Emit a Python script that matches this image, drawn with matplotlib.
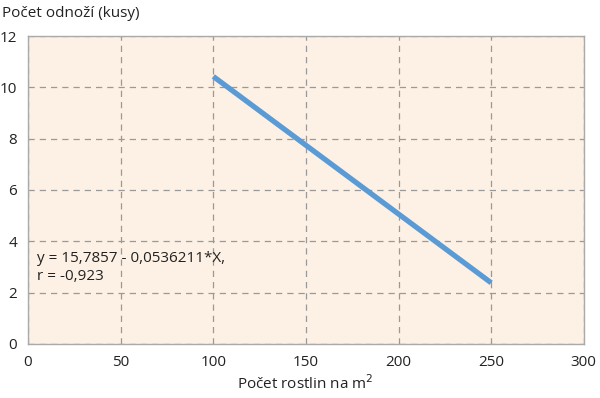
import matplotlib.pyplot as plt

# regression line endpoints (y = 15.7857 - 0.0536211*X)
x_vals = [100, 250]
y_vals = [15.7857 - 0.0536211 * 100, 15.7857 - 0.0536211 * 250]
x_ticks = [0, 50, 100, 150, 200, 250, 300]
y_ticks = [0, 2, 4, 6, 8, 10, 12]

plt.rcParams['font.family'] = ['Open Sans', 'DejaVu Sans']

fig = plt.figure(figsize=(6, 3.98), dpi=100)
ax = fig.add_axes([0.0467, 0.136, 0.9263, 0.7735])
ax.set_facecolor('#fcf1e4')

ax.plot(x_vals, y_vals, color='#5b9bd5', linewidth=3.8, solid_capstyle='butt', zorder=3)

ax.set_xlim(0, 300)
ax.set_ylim(0, 12)
ax.set_xticks(x_ticks)
ax.set_yticks(y_ticks)
ax.tick_params(length=0, labelsize=11, colors='#222222', pad=8)
ax.grid(True, color='#999999', linestyle=(0, (5, 4)), linewidth=0.9)
for s in ax.spines.values():
    s.set_color('#aaaaaa')
    s.set_linewidth(1.0)

ax.text(5, 2.98, 'y = 15,7857 - 0,0536211*X,\nr = -0,923', fontsize=11,
        color='#222222', ha='left', va='center', linespacing=1.3)

fig.text(0.003, 0.965, 'Počet odnoží (kusy)', fontsize=11, color='#222222',
         ha='left', va='center')
fig.text(0.508, 0.037, 'Počet rostlin na m$^2$', fontsize=11, color='#222222',
         ha='center', va='center')

fig.savefig('out.png', dpi=100)
